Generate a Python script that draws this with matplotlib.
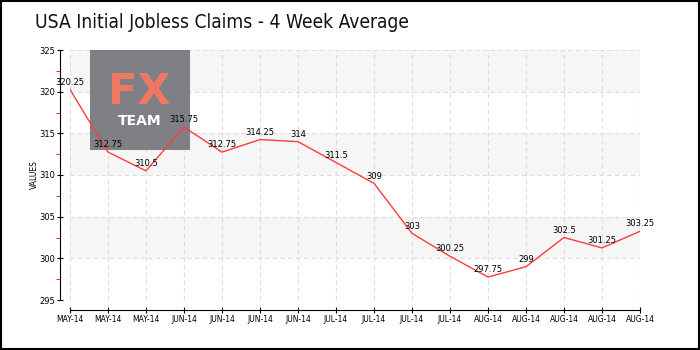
import matplotlib
matplotlib.use("Agg")
import matplotlib.pyplot as plt
from matplotlib.patches import Rectangle
from matplotlib.ticker import MultipleLocator

TITLE = "USA Initial Jobless Claims - 4 Week Average"
months = ["MAY-14", "MAY-14", "MAY-14", "JUN-14", "JUN-14", "JUN-14", "JUN-14",
          "JUL-14", "JUL-14", "JUL-14", "JUL-14", "AUG-14", "AUG-14", "AUG-14",
          "AUG-14", "AUG-14"]
values = [320.25, 312.75, 310.5, 315.75, 312.75, 314.25, 314, 311.5, 309,
          303, 300.25, 297.75, 299, 302.5, 301.25, 303.25]
Y_MIN, Y_MAX = 295, 325
LINE_COLOR = "#ff3b3b"

fig = plt.figure(figsize=(7, 3.5), dpi=100)
ax = fig.add_axes([70 / 700, 1 - 300 / 350, 570 / 700, 250 / 350])

x = list(range(len(values)))
ax.set_xlim(0, len(values) - 1)
ax.set_ylim(Y_MIN, Y_MAX)

# alternating bands
for i, lo in enumerate(range(Y_MIN, Y_MAX, 5)):
    if i % 2 == 1:
        ax.axhspan(lo, lo + 5, color="#f6f6f6", zorder=0, lw=0)

ax.grid(True, which="major", color="#dddddd", linestyle=(0, (4, 3)), lw=0.8)
ax.set_axisbelow(True)

# watermark box
ax.add_patch(Rectangle((90 / 700, 1 - 150 / 350), 100 / 700, 100 / 350,
                       transform=fig.transFigure, facecolor="#7b7b82",
                       edgecolor="none", alpha=0.97, zorder=1.5))
fig.text(139 / 700, 1 - 92 / 350, "FX", color="#f07862", fontsize=31,
         fontweight="bold", ha="center", va="center", family="DejaVu Sans",
         zorder=3)
fig.text(140 / 700, 1 - 121 / 350, "TEAM", color="white", fontsize=10,
         fontweight="bold", ha="center", va="center", family="DejaVu Sans",
         zorder=3)

ax.plot(x, values, color=LINE_COLOR, lw=1, zorder=4)
for xi, v in zip(x, values):
    ax.annotate(f"{v:g}", (xi, v), xytext=(0, 2), textcoords="offset points",
                ha="center", va="bottom", fontsize=6, zorder=5)

ax.set_xticks(x)
ax.set_xticklabels(months)
ax.yaxis.set_major_locator(MultipleLocator(5))
ax.yaxis.set_minor_locator(MultipleLocator(2.5))
ax.tick_params(axis="y", which="major", direction="inout", length=5,
               labelsize=6, pad=1)
ax.tick_params(axis="y", which="minor", direction="out", length=3,
               color="red")
ax.tick_params(axis="x", direction="inout", length=5, pad=1, labelsize=5.5)

for side in ["top", "right"]:
    ax.spines[side].set_visible(False)
ax.spines["left"].set_position(("outward", 7.2))
ax.spines["bottom"].set_position(("outward", 7.2))

ax.set_ylabel("VALUES", fontsize=5.5, labelpad=0)

fig.text(35 / 700, 1 - 23 / 350, TITLE, fontsize=13.8, va="center",
         family="DejaVu Sans", stretch="condensed", color="#111111")

fig.patches.append(Rectangle((0.001, 0.002), 0.998, 0.996,
                             transform=fig.transFigure, fill=False,
                             edgecolor="black", lw=1.5))

fig.savefig("out.png", dpi=100)
